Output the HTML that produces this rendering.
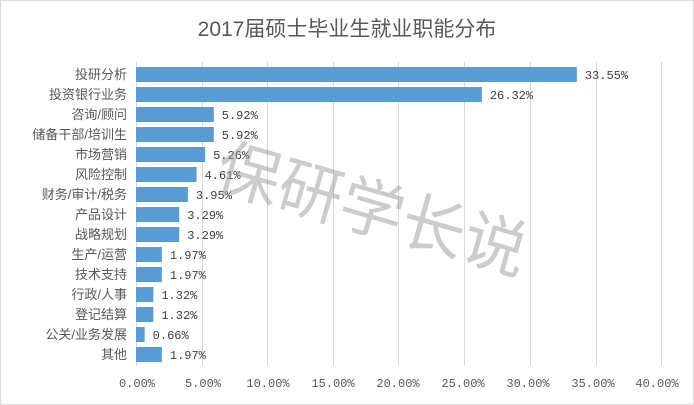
<!DOCTYPE html>
<html><head><meta charset="utf-8"><style>
body{margin:0;background:#fff;}
</style></head><body>
<svg width="694" height="405" xmlns="http://www.w3.org/2000/svg" style="display:block">
<rect x="0.5" y="0.5" width="693" height="404" fill="#fff" stroke="#d9d9d9"/>
<text x="347" y="36" text-anchor="middle" font-family="Liberation Sans, Noto Sans CJK SC, sans-serif" font-size="21" fill="#595959">2017届硕士毕业生就业职能分布</text>
<g stroke="#d9d9d9" stroke-width="1">
<line x1="136.5" y1="62" x2="136.5" y2="366"/>
<line x1="202.5" y1="62" x2="202.5" y2="366"/>
<line x1="267.5" y1="62" x2="267.5" y2="366"/>
<line x1="333.5" y1="62" x2="333.5" y2="366"/>
<line x1="398.5" y1="62" x2="398.5" y2="366"/>
<line x1="464.5" y1="62" x2="464.5" y2="366"/>
<line x1="530.5" y1="62" x2="530.5" y2="366"/>
<line x1="596.5" y1="62" x2="596.5" y2="366"/>
<line x1="661.5" y1="62" x2="661.5" y2="366"/>
</g>
<g font-family="Liberation Sans, Noto Sans CJK SC, sans-serif" font-size="13" fill="#595959" text-anchor="end" id="cats"></g>
<g id="bars"></g>
<g font-family="Liberation Mono, Noto Sans CJK SC, monospace" font-size="12" fill="#595959" text-anchor="middle">
<text x="137" y="387">0.00%</text><text x="203" y="387">5.00%</text><text x="268" y="387">10.00%</text><text x="333" y="387">15.00%</text><text x="398" y="387">20.00%</text><text x="463" y="387">25.00%</text><text x="528" y="387">30.00%</text><text x="593" y="387">35.00%</text><text x="657" y="387">40.00%</text>
</g>
<text x="372" y="232" text-anchor="middle" transform="rotate(16 372 210)" font-family="Noto Sans CJK SC, sans-serif" font-size="64" fill="#999" fill-opacity="0.5">保研学长说</text>
<script>
var d=[["投研分析",33.55],["投资银行业务",26.32],["咨询/顾问",5.92],["储备干部/培训生",5.92],["市场营销",5.26],["风险控制",4.61],["财务/审计/税务",3.95],["产品设计",3.29],["战略规划",3.29],["生产/运营",1.97],["技术支持",1.97],["行政/人事",1.32],["登记结算",1.32],["公关/业务发展",0.66],["其他",1.97]];
var ns="http://www.w3.org/2000/svg",c=document.getElementById("cats"),b=document.getElementById("bars");
d.forEach(function(r,i){var y=67+20*i,w=r[1]*13.14;
var t=document.createElementNS(ns,"text");t.setAttribute("x",127);t.setAttribute("y",y+12);t.textContent=r[0];c.appendChild(t);
var re=document.createElementNS(ns,"rect");re.setAttribute("x",136);re.setAttribute("y",y);re.setAttribute("width",w);re.setAttribute("height",15);re.setAttribute("fill","#5b9bd5");b.appendChild(re);
var v=document.createElementNS(ns,"text");v.setAttribute("x",136+w+8);v.setAttribute("y",y+12);v.setAttribute("font-family","Liberation Mono, monospace");v.setAttribute("font-size","12");v.setAttribute("fill","#404040");v.textContent=r[1].toFixed(2)+"%";b.appendChild(v);});
</script>
</svg>
</body></html>
